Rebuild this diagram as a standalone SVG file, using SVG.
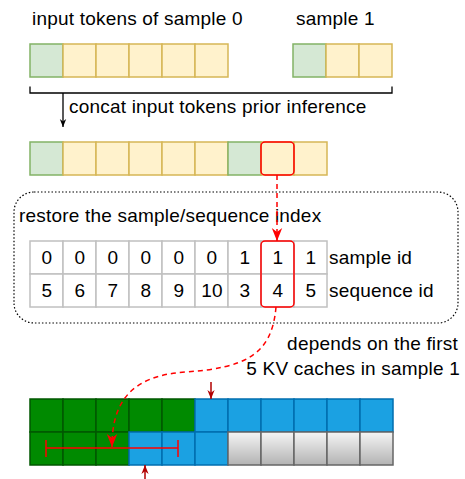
<svg xmlns="http://www.w3.org/2000/svg" width="465" height="479" viewBox="0 0 465 479">
<defs>
<style>
text{font-family:"Liberation Sans",Arial,sans-serif;font-size:19px;letter-spacing:0.2px;fill:#000}
.c{text-anchor:middle}
.g{fill:#d5e8d4;stroke:#82b366;stroke-width:1.5}
.y{fill:#fff2cc;stroke:#d6b656;stroke-width:1.5}
.t{fill:#fff;stroke:#c0c0c0;stroke-width:1.5}
.dg{fill:#008a00;stroke:#005700;stroke-width:1.5}
.bl{fill:#1ba1e2;stroke:#006eaf;stroke-width:1.5}
.gr{fill:url(#grad);stroke:#666;stroke-width:1.5}
.hl{fill:none;stroke:#ff0000;stroke-width:1.5}
</style>
<linearGradient id="grad" x1="0" y1="0" x2="0" y2="1"><stop offset="0" stop-color="#f5f5f5"/><stop offset="1" stop-color="#b3b3b3"/></linearGradient>
<marker id="ab" viewBox="0 0 10 10" refX="10" refY="5" markerWidth="8" markerHeight="8" orient="auto" markerUnits="userSpaceOnUse"><path d="M0,1 L10,5 L0,9 L3,5 Z" fill="#000"/></marker>
<marker id="ar" viewBox="0 0 10 10" refX="10" refY="5" markerWidth="13" markerHeight="13" orient="auto" markerUnits="userSpaceOnUse"><path d="M0,1 L10,5 L0,9 L3,5 Z" fill="#ff0000"/></marker>
<marker id="ad" viewBox="0 0 10 10" refX="10" refY="5" markerWidth="9" markerHeight="9" orient="auto" markerUnits="userSpaceOnUse"><path d="M0,1 L10,5 L0,9 L3,5 Z" fill="#b20000"/></marker>
</defs>

<g id="label-sample0"><text x="32" y="25">input tokens of sample 0</text></g>
<g id="label-sample1"><text x="296" y="25">sample 1</text></g>

<g id="sample0-tokens">
<rect class="g" x="30" y="44" width="33" height="33"/>
<rect class="y" x="63" y="44" width="33" height="33"/>
<rect class="y" x="96" y="44" width="33" height="33"/>
<rect class="y" x="129" y="44" width="33" height="33"/>
<rect class="y" x="162" y="44" width="33" height="33"/>
<rect class="y" x="195" y="44" width="33" height="33"/>
</g>
<g id="sample1-tokens">
<rect class="g" x="293" y="44" width="33" height="33"/>
<rect class="y" x="326" y="44" width="33" height="33"/>
<rect class="y" x="359" y="44" width="33" height="33"/>
</g>

<g id="label-concat"><text x="69" y="113">concat input tokens prior inference</text></g>

<g id="concat-tokens">
<rect class="g" x="30" y="142" width="33" height="33"/>
<rect class="y" x="63" y="142" width="33" height="33"/>
<rect class="y" x="96" y="142" width="33" height="33"/>
<rect class="y" x="129" y="142" width="33" height="33"/>
<rect class="y" x="162" y="142" width="33" height="33"/>
<rect class="y" x="195" y="142" width="33" height="33"/>
<rect class="g" x="228" y="142" width="33" height="33"/>
<rect class="y" x="261" y="142" width="33" height="33"/>
<rect class="y" x="294" y="142" width="33" height="33"/>
<rect class="hl" x="261" y="142" width="33" height="33" rx="4"/>
</g>

<g id="restore-box">
<rect x="14" y="192" width="444" height="131" rx="20" fill="none" stroke="#000" stroke-width="1.2" stroke-dasharray="1.5 2"/>
<text x="19" y="222">restore the sample/sequence index</text>
</g>

<g id="index-table">
<rect class="t" x="30" y="241" width="33" height="33"/><rect class="t" x="63" y="241" width="33" height="33"/><rect class="t" x="96" y="241" width="33" height="33"/><rect class="t" x="129" y="241" width="33" height="33"/><rect class="t" x="162" y="241" width="33" height="33"/><rect class="t" x="195" y="241" width="33" height="33"/><rect class="t" x="228" y="241" width="33" height="33"/><rect class="t" x="261" y="241" width="33" height="33"/><rect class="t" x="294" y="241" width="33" height="33"/>
<rect class="t" x="30" y="274" width="33" height="33"/><rect class="t" x="63" y="274" width="33" height="33"/><rect class="t" x="96" y="274" width="33" height="33"/><rect class="t" x="129" y="274" width="33" height="33"/><rect class="t" x="162" y="274" width="33" height="33"/><rect class="t" x="195" y="274" width="33" height="33"/><rect class="t" x="228" y="274" width="33" height="33"/><rect class="t" x="261" y="274" width="33" height="33"/><rect class="t" x="294" y="274" width="33" height="33"/>
<text class="c" x="47" y="264">0</text><text class="c" x="80" y="264">0</text><text class="c" x="113" y="264">0</text><text class="c" x="146" y="264">0</text><text class="c" x="179" y="264">0</text><text class="c" x="212" y="264">0</text><text class="c" x="245" y="264">1</text><text class="c" x="278" y="264">1</text><text class="c" x="311" y="264">1</text>
<text class="c" x="47" y="297">5</text><text class="c" x="80" y="297">6</text><text class="c" x="113" y="297">7</text><text class="c" x="146" y="297">8</text><text class="c" x="179" y="297">9</text><text class="c" x="212" y="297">10</text><text class="c" x="245" y="297">3</text><text class="c" x="278" y="297">4</text><text class="c" x="311" y="297">5</text>
<rect class="hl" x="261" y="241" width="33" height="66" rx="4"/>
<text x="329" y="264">sample id</text>
<text x="329" y="297">sequence id</text>
</g>

<g id="label-depends">
<text x="458" y="350" text-anchor="end">depends on the first</text>
<text x="460" y="375" text-anchor="end">5 KV caches in sample 1</text>
</g>

<g id="kv-cache">
<rect class="dg" x="30" y="399" width="33" height="33"/><rect class="dg" x="63" y="399" width="33" height="33"/><rect class="dg" x="96" y="399" width="33" height="33"/><rect class="dg" x="129" y="399" width="33" height="33"/><rect class="dg" x="162" y="399" width="33" height="33"/>
<rect class="bl" x="195" y="399" width="33" height="33"/><rect class="bl" x="228" y="399" width="33" height="33"/><rect class="bl" x="261" y="399" width="33" height="33"/><rect class="bl" x="294" y="399" width="33" height="33"/><rect class="bl" x="327" y="399" width="33" height="33"/><rect class="bl" x="360" y="399" width="33" height="33"/>
<rect class="dg" x="30" y="432" width="33" height="33"/><rect class="dg" x="63" y="432" width="33" height="33"/><rect class="dg" x="96" y="432" width="33" height="33"/>
<rect class="bl" x="129" y="432" width="33" height="33"/><rect class="bl" x="162" y="432" width="33" height="33"/><rect class="bl" x="195" y="432" width="33" height="33"/>
<rect class="gr" x="228" y="432" width="33" height="33"/><rect class="gr" x="261" y="432" width="33" height="33"/><rect class="gr" x="294" y="432" width="33" height="33"/><rect class="gr" x="327" y="432" width="33" height="33"/><rect class="gr" x="360" y="432" width="33" height="33"/>
</g>

<g id="connectors" fill="none">
<path d="M30,86.5 V93 H392 V86.5" stroke="#000" stroke-width="1.3"/>
<path d="M63,93 V127" stroke="#000" stroke-width="1.3" marker-end="url(#ab)"/>
<path d="M277,175 V241" stroke="#ff0000" stroke-width="1.5" stroke-dasharray="5 4" marker-end="url(#ar)"/>
<path d="M276,307 C272,355 245,368 185,372 C128,376 112,405 112,447" stroke="#ff0000" stroke-width="1.5" stroke-dasharray="5 4" marker-end="url(#ar)"/>
<path d="M46,448 H178 M46,440 V457 M178,440 V457" stroke="#ff0000" stroke-width="1.5"/>
<path d="M211,382 V399" stroke="#b20000" stroke-width="1.5" marker-end="url(#ad)"/>
<path d="M145,479 V465" stroke="#b20000" stroke-width="1.5" marker-end="url(#ad)"/>
</g>
</svg>
